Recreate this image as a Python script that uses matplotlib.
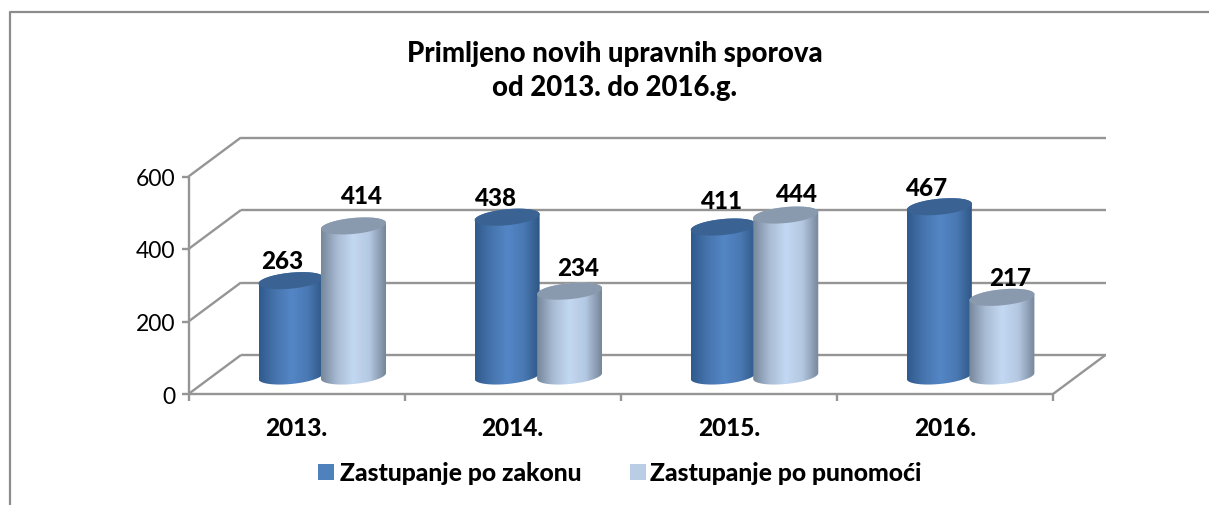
import numpy as np
import matplotlib.pyplot as plt
from matplotlib.patches import PathPatch, Rectangle
from matplotlib.path import Path
from matplotlib.colors import LinearSegmentedColormap

years = ["2013.", "2014.", "2015.", "2016."]
po_zakonu = [263, 438, 411, 467]
po_punomoci = [414, 234, 444, 217]
series_names = ["Zastupanje po zakonu", "Zastupanje po punomoći"]
y_ticks = [0, 200, 400, 600]

W, H = 1209, 506
plt.rcParams["font.family"] = ["Lato", "DejaVu Sans"]
HEAVY = 900

fig = plt.figure(figsize=(W / 100, H / 100), dpi=100)

# front plane of the 3d box, pixel numbers
L, R, B, T = 188.5, 1053, 395, 177.5
ax = fig.add_axes([L / W, 1 - B / H, (R - L) / W, (B - T) / H])
ax.set_xlim(0, 4)
ax.set_ylim(0, 600)
ax.axis("off")

GREY = "#959595"
px_x = (R - L) / 4
px_y = (B - T) / 600
depth_x = 52.5 / px_x
depth_y = 39 / px_y


def line(xs, ys, **kw):
    ax.plot(xs, ys, color=GREY, lw=1.7, clip_on=False, solid_capstyle="butt", **kw)


# walls and floor
for v in y_ticks:
    line([0, depth_x], [v, v + depth_y], zorder=1)
    line([depth_x, 4 + depth_x], [v + depth_y, v + depth_y], zorder=1)
    line([-7 / px_x, 0], [v, v], zorder=1)
line([0, 0], [0, 600], zorder=1)
line([0, 4], [0, 0], zorder=1)
line([4, 4 + depth_x], [0, depth_y], zorder=1)
for i in range(5):
    line([i, i], [0, -7 / px_y], zorder=1)

blue = LinearSegmentedColormap.from_list("b", ["#2f5a8e", "#4674ad", "#5486c6", "#4a79b4", "#2e5684"])
light = LinearSegmentedColormap.from_list("l", ["#76879b", "#a9bcd4", "#c3d8f2", "#b4c8e2", "#76869a"])
grad = np.linspace(0, 1, 128).reshape(1, -1)

bar_w = 65 / px_x
bar_step = 62.5 / px_x  # second cylinder overlaps the first a little
lift = 18 / px_y      # cylinders stand in the middle of the floor
ell_b = 8 / px_y
shear = 3 / px_y


def cylinder(x0, value, cmap, top_color, z):
    a = bar_w / 2
    cx = x0 + a
    y0 = lift
    y1 = lift + value
    t = np.linspace(np.pi, 2 * np.pi, 60)
    low_x = cx + a * np.cos(t)
    low_y = y0 + ell_b * np.sin(t) + shear * np.cos(t)
    up_x = low_x[::-1]
    up_y = y1 + ell_b * np.sin(t[::-1]) * -1 + shear * np.cos(t[::-1])
    verts = np.r_[np.c_[low_x, low_y], np.c_[up_x, up_y], [[low_x[0], low_y[0]]]]
    codes = [Path.MOVETO] + [Path.LINETO] * (len(verts) - 2) + [Path.CLOSEPOLY]
    body = PathPatch(Path(verts, codes), transform=ax.transData, fc="none", ec="none")
    ax.add_patch(body)
    im = ax.imshow(grad, extent=[cx - a, cx + a, 0, y1 + ell_b + shear], cmap=cmap,
                   aspect="auto", zorder=z, interpolation="bilinear")
    im.set_clip_path(body)

    t2 = np.linspace(0, 2 * np.pi, 120)
    top = np.c_[cx + a * np.cos(t2), y1 + ell_b * np.sin(t2) + shear * np.cos(t2)]
    ax.fill(top[:, 0], top[:, 1], color=top_color, lw=0, zorder=z + 0.1, clip_on=False)
    return cx


# label nudges in px from the top of each cylinder (3d placement is uneven)
nudge_a = [(-9, 20), (-11, 20), (-1, 27), (-12, 19)]
nudge_b = [(8, 30), (9, 24), (11, 22), (8, 20)]

z = 3
for i in range(4):
    x_a = i + 70 / px_x
    x_b = x_a + bar_step
    for x0, val, cmap, col, nd in [(x_a, po_zakonu[i], blue, "#3a6393", nudge_a[i]),
                                   (x_b, po_punomoci[i], light, "#8a9aae", nudge_b[i])]:
        cx = cylinder(x0, val, cmap, col, z)
        ax.annotate(str(val), (cx, lift + val), xytext=(nd[0] * 0.72, nd[1] * 0.72),
                    textcoords="offset points", ha="center", va="center",
                    fontsize=17.4, fontweight=HEAVY, color="black", zorder=20)
        z += 1

ax.set_xlim(0, 4)
ax.set_ylim(0, 600)

for v in y_ticks:
    ax.annotate(str(v), (0, v), xytext=(-13 * 0.72, -2 * 0.72), textcoords="offset points",
                ha="right", va="center", fontsize=16.5, color="black", annotation_clip=False)
for i, yr in enumerate(years):
    ax.annotate(yr, (i + 0.5, 0), xytext=(0, -33 * 0.72), textcoords="offset points",
                ha="center", va="center", fontsize=17.6, fontweight=HEAVY, annotation_clip=False)

# chart frame, runs off the picture at the right and the bottom
frame = fig.add_axes([0, 0, 1, 1], zorder=-1)
frame.set_xlim(0, W)
frame.set_ylim(H, 0)
frame.axis("off")
frame.plot([10, 10, W], [H, 13, 13], color="#8c8c8c", lw=1.6)

fig.text(615 / W, 1 - 54 / H, "Primljeno novih upravnih sporova", ha="center", va="center",
         fontsize=19.8, fontweight=HEAVY)
fig.text(615 / W, 1 - 88 / H, "od 2013. do 2016.g.", ha="center", va="center",
         fontsize=19.8, fontweight=HEAVY)

# legend by hand, keys are plain squares
frame.add_patch(Rectangle((318, 465), 15.5, 15.5, fc="#4f81bd", ec="none"))
frame.add_patch(Rectangle((630, 465), 15.5, 15.5, fc="#b9cde5", ec="none"))
frame.text(340, 474, series_names[0], ha="left", va="center", fontsize=17.8, fontweight=HEAVY)
frame.text(650, 474, series_names[1], ha="left", va="center", fontsize=17.8, fontweight=HEAVY)

fig.savefig("out.png", dpi=100)
